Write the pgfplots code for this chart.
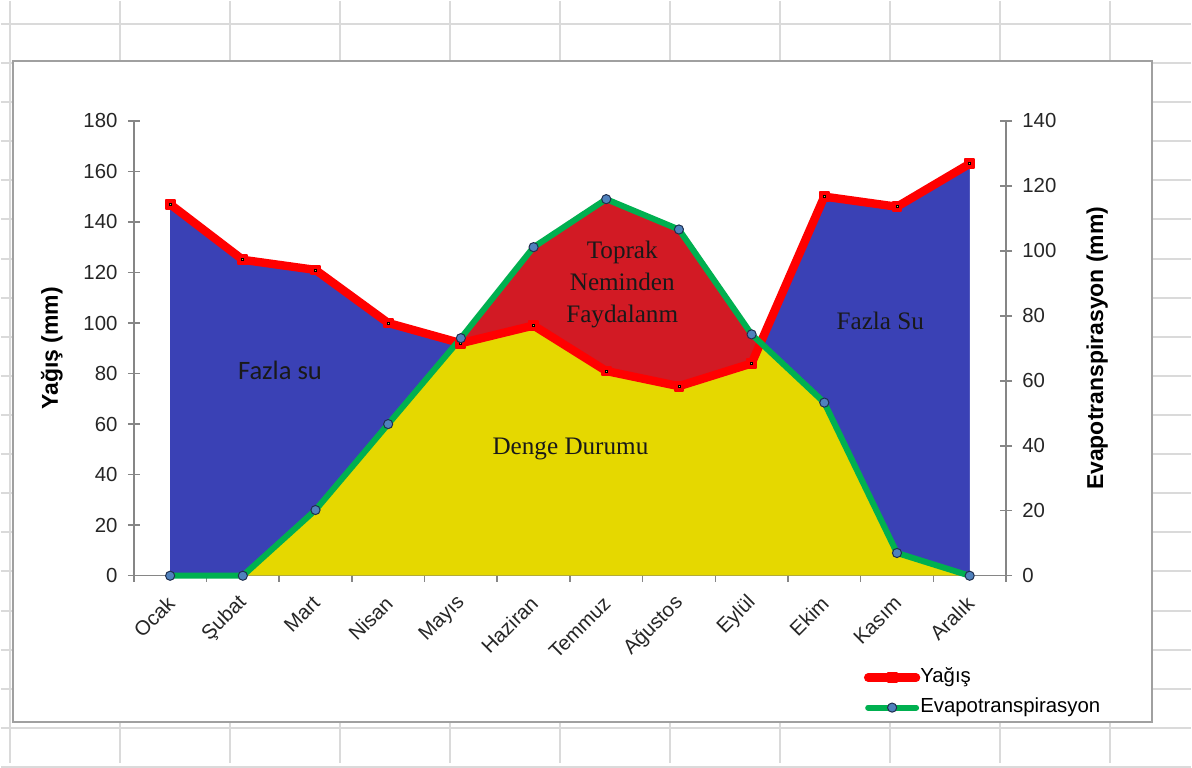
\documentclass[border=0pt]{standalone}
\usepackage{fontspec}
\setmainfont{Liberation Sans}
\newfontfamily\serifx{Liberation Serif}
\newfontfamily\calib{Carlito}
\usepackage{pgfplots}
\pgfplotsset{compat=1.18}
\usepgfplotslibrary{fillbetween}
\usepackage{pgfplotstable}

\definecolor{cellgrid}{HTML}{DADADA}
\definecolor{framegray}{HTML}{A0A0A0}
\definecolor{axisgray}{HTML}{868686}
\definecolor{blueC}{HTML}{3A41B5}
\definecolor{redC}{HTML}{D21A24}
\definecolor{yellowC}{HTML}{E5D800}
\definecolor{rainred}{HTML}{FF0000}
\definecolor{etgreen}{HTML}{00B050}
\definecolor{markblue}{HTML}{4F81BD}
\definecolor{markedge}{HTML}{1F2F4F}
\definecolor{dotc}{HTML}{C8D84A}

% m = month index, p = Yağış (mm), e = Evapotranspirasyon on the same scale
\pgfplotstableread{
m p   e
0 147 0
1 125 0
2 121 26
3 100 60
4 92  94
5 99  130
6 81  149
7 75  137
8 84  95.5
9 150 68.5
10 146 9
11 163 0
}\data

\newcommand{\tickfont}{\fontsize{10.2}{12}\selectfont}

\begin{document}
\begin{tikzpicture}
\begin{scope}[x=0.5pt,y=-0.5pt]
\path[use as bounding box] (0,0) rectangle (1192,763);
\end{scope}

\begin{axis}[
  set layers, clip=false,
  at={(66.5pt,-287.85pt)}, anchor=south west,
  scale only axis, width=436.85pt, height=227.85pt,
  xmin=-0.5, xmax=11.5, ymin=0, ymax=180,
  axis x line*=bottom, axis y line*=left,
  axis line style={axisgray, line width=0.75pt, -},
  ytick={0,20,...,180},
  xtick={0,...,11},
  xticklabels={Ocak,Şubat,Mart,Nisan,Mayıs,Haziran,Temmuz,Ağustos,Eylül,Ekim,Kasım,Aralık},
  minor xtick={-0.5,0.5,...,11.5},
  tick align=center,
  major tick length=6pt, minor tick length=6pt,
  major x tick style={draw=none},
  minor x tick style={axisgray, line width=0.75pt},
  ytick style={axisgray, line width=0.75pt},
  /pgf/number format/assume math mode=true,
  yticklabel style={font=\tickfont, text=black!85, anchor=east, inner sep=0pt, xshift=-5pt},
  xticklabel style={font=\tickfont, text=black!85, inner sep=0pt, xshift=0.5pt, yshift=-9pt, rotate=45, anchor=east},
  ylabel={Yağış (mm)},
  every axis y label/.style={at={(axis description cs:-0.0939,0.5)}, rotate=90, anchor=center, font=\bfseries\fontsize{11.5}{13}\selectfont},
  legend style={at={(axis description cs:0.8367,-0.199)}, anchor=north west, draw=none, fill=none,
    font=\tickfont, inner sep=0pt, row sep=4pt,
    nodes={inner sep=0pt, text height=8pt, text depth=3pt}},
  legend cell align=left,
  legend image code/.code={\draw[mark repeat=2, mark phase=2, line cap=round, #1] plot coordinates {(0pt,0pt) (12pt,0pt) (24pt,0pt)};},
]
% spreadsheet cells and the chart frame, behind everything
\begin{pgfonlayer}{axis background}
\fill[white] (axis description cs:-0.15223,1.26333) rectangle (axis description cs:1.21209,-0.41102);
\pgfplotsinvokeforeach{0,...,19}{
  \draw[cellgrid, line width=1pt] (axis description cs:-0.15223,{(552.7-39.17*#1)/455.7}) -- (axis description cs:1.21209,{(552.7-39.17*#1)/455.7});}
\pgfplotsinvokeforeach{0,...,10}{
  \draw[cellgrid, line width=1pt] (axis description cs:{(-124+110.2*#1)/873.7},1.26333) -- (axis description cs:{(-124+110.2*#1)/873.7},-0.41102);}
\filldraw[fill=white, draw=framegray, line width=1.2pt] (axis description cs:-0.13849,1.13167) rectangle (axis description cs:1.16745,-0.32105);
\end{pgfonlayer}

% named outlines of both series and the zero line
\addplot[name path=P, draw=none, forget plot] table[x=m, y=p]{\data};
\addplot[name path=E, draw=none, forget plot] table[x=m, y=e]{\data};
\addplot[name path=Z, draw=none, forget plot] coordinates {(0,0) (11,0)};
% surplus water under the rainfall line
\addplot[fill=blueC, draw=none, forget plot] fill between[of=P and Z];
% balance: below both curves
\addplot[fill=yellowC, draw=none, forget plot] fill between[of=E and Z];
% deficit drawn from soil moisture where evapotranspiration exceeds rainfall
\addplot[fill=blueC, draw=none, forget plot] fill between[of=P and E, split,
  every segment no 1/.style={fill=redC}];

\addplot[rainred, line width=4.2pt, line join=round, mark=square*,
  mark options={fill=rainred, draw=rainred, line width=1pt, line join=round}, mark size=2.2pt]
  table[x=m, y=p]{\data};
\addlegendentry{Yağış}
\addplot[only marks, mark=square*, mark size=0.5pt, mark options={fill=dotc, draw=none}, forget plot]
  table[x=m, y=p]{\data};
\addplot[etgreen, line width=3pt, line join=round, mark=*,
  mark options={fill=markblue, draw=markedge, line width=0.5pt}, mark size=2.3pt]
  table[x=m, y=e]{\data};
\addlegendentry{Evapotranspirasyon}

\node[font=\calib\fontsize{13.3}{15}\selectfont, text=black!90] at (axis cs:1.511,81.2) {Fazla su};
\node[font=\serifx\fontsize{12.6}{15}\selectfont, text=black!90] at (axis cs:5.508,50) {Denge Durumu};
\node[font=\serifx\fontsize{12.6}{16}\selectfont, text=black!90, align=center] at (axis cs:6.22,115.2) {Toprak\\Neminden\\Faydalanm};
\node[font=\serifx\fontsize{12.6}{15}\selectfont, text=black!90] at (axis cs:9.77,101) {Fazla Su};
\end{axis}

\begin{axis}[
  at={(66.5pt,-287.85pt)}, anchor=south west,
  scale only axis, width=436.85pt, height=227.85pt,
  xmin=-0.5, xmax=11.5, ymin=0, ymax=140,
  axis y line*=right, axis x line=none,
  axis line style={axisgray, line width=0.75pt, -},
  ytick={0,20,...,140},
  tick align=center, major tick length=6pt,
  ytick style={axisgray, line width=0.75pt},
  /pgf/number format/assume math mode=true,
  yticklabel style={font=\tickfont, text=black!85, anchor=west, inner sep=0pt, xshift=5pt},
  ylabel={Evapotranspirasyon (mm)},
  every axis y label/.style={at={(axis description cs:1.1045,0.5)}, rotate=90, anchor=center, font=\bfseries\fontsize{11.5}{13}\selectfont},
]
\addplot[draw=none] coordinates {(0,0) (11,140)};
\end{axis}
\end{tikzpicture}
\end{document}
